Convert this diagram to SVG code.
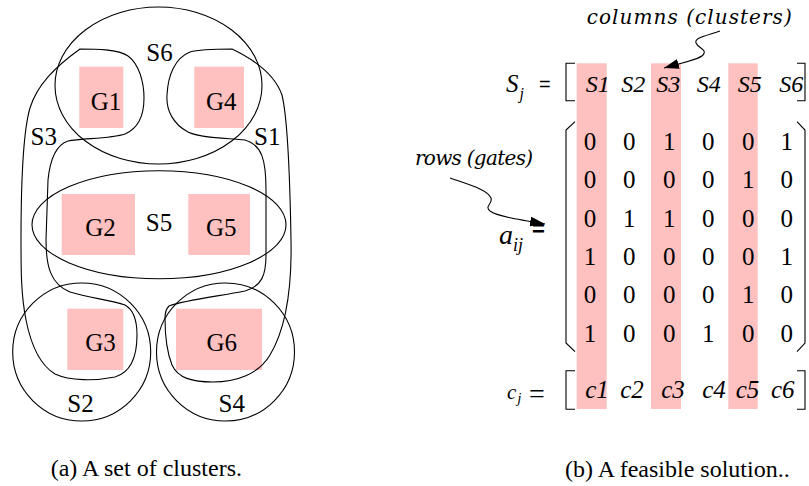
<svg xmlns="http://www.w3.org/2000/svg" width="809" height="486" viewBox="0 0 809 486">
<style>
.ln{fill:none;stroke:#000;stroke-width:1.1}
.gate{fill:#ffc0c0}
.lbl{font-family:"Liberation Serif","Times New Roman",serif;font-size:25px;fill:#000;text-anchor:middle}
.cap{font-family:"Liberation Serif","Times New Roman",serif;font-size:24px;fill:#000}
.it{font-family:"Liberation Serif","Times New Roman",serif;font-style:italic;fill:#000}
.dg{font-family:"Liberation Serif","Times New Roman",serif;font-size:25px;fill:#000;text-anchor:middle}
.ann{font-family:"DejaVu Serif","Liberation Serif",serif;font-style:italic;font-size:20px;fill:#000}
</style>
<defs>
<marker id="ah" markerUnits="userSpaceOnUse" markerWidth="15" markerHeight="10" refX="15" refY="5" orient="auto">
<path d="M0,0 L15,5 L0,10 Z" fill="#000"/>
</marker>
</defs>
<rect width="809" height="486" fill="#fff"/>

<!-- gates -->
<g id="G1"><rect class="gate" x="79.3" y="66.7" width="44" height="61.3"/><text class="lbl" x="106" y="110">G1</text></g>
<g id="G4"><rect class="gate" x="194.3" y="66.7" width="49.7" height="61.3"/><text class="lbl" x="221.3" y="110">G4</text></g>
<g id="G2"><rect class="gate" x="61.7" y="194" width="73.3" height="61"/><text class="lbl" x="100.5" y="236">G2</text></g>
<g id="G5"><rect class="gate" x="188.3" y="194" width="61.7" height="61"/><text class="lbl" x="221.3" y="236">G5</text></g>
<g id="G3"><rect class="gate" x="67.3" y="308.7" width="56" height="61.3"/><text class="lbl" x="100.5" y="351">G3</text></g>
<g id="G6"><rect class="gate" x="176" y="308.7" width="86" height="61.3"/><text class="lbl" x="221.7" y="351">G6</text></g>

<!-- clusters -->
<g id="S6"><ellipse class="ln" cx="158.5" cy="85.5" rx="103.5" ry="78.5"/><text class="lbl" x="159.5" y="61">S6</text></g>
<g id="S5"><ellipse class="ln" cx="159" cy="224.7" rx="127" ry="54"/><text class="lbl" x="159" y="230.7">S5</text></g>
<g id="S2"><circle class="ln" cx="81.7" cy="352" r="69"/><text class="lbl" x="80.5" y="411.7">S2</text></g>
<g id="S4"><circle class="ln" cx="225.5" cy="352" r="69"/><text class="lbl" x="231.7" y="411.7">S4</text></g>
<g id="S3">
<path class="ln" d="M80,49 C95,49 118,49 128,56 C139,64 144,82 144,98 C144,114 139,128 125,134 C110,139 82,138 68,141 C56,145 50,160 48,180 L46,240 C46,265 50,284 70,292 C90,298 110,300 125,305 C134,310 137,320 137,335 C137,355 132,372 115,377 C95,381 70,381 55,374 C40,365 31,345 26,320 C21,295 21,270 21,240 C21,200 22,135 30,108 C37,85 55,67 80,49 Z"/>
<text class="lbl" x="43.8" y="145">S3</text>
</g>
<g id="S1">
<path class="ln" d="M232,49 C255,60 275,75 282,95 C288,120 290,180 291,240 C292,290 285,330 270,355 C258,375 235,382 213,382 C192,382 178,378 172,365 C166,350 165,330 165,318 C165,312 167,308 169,306 C185,300 220,296 245,291 C262,286 266,275 266,255 L266,190 C266,160 262,145 245,140 C225,138 200,138 188,132 C173,124 166,110 167,95 C168,75 175,58 190,52 C200,49 215,49 232,49 Z"/>
<text class="lbl" x="267.3" y="145">S1</text>
</g>
<text class="cap" x="50.7" y="476">(a) A set of clusters.</text>

<!-- right panel: selected columns -->
<g id="selected-columns">
<rect class="gate" x="576.7" y="63.3" width="30" height="345.7"/>
<rect class="gate" x="651" y="63.3" width="30" height="345.7"/>
<rect class="gate" x="728.3" y="63.3" width="29.4" height="345.7"/>
</g>

<g id="Sj">
<text class="it" x="506" y="92" font-size="25">S<tspan font-size="16" dx="1" dy="7">j</tspan></text>
<text x="539" y="91" font-family="Liberation Sans, Arial, sans-serif" font-size="20">=</text>
<path class="ln" d="M575,63.3 H566 V100.7 H575 M797,63.3 H805 V100.7 H797"/>
<g class="it" font-size="24" text-anchor="middle">
<text x="597.8" y="91.7">S1</text><text x="633.3" y="91.7">S2</text><text x="668.3" y="91.7">S3</text>
<text x="708.8" y="91.7">S4</text><text x="749.7" y="91.7">S5</text><text x="791.3" y="91.7">S6</text>
</g>
</g>

<g id="aij">
<text class="it" x="499" y="244" font-size="28">a<tspan font-size="18" dy="7">ij</tspan></text>
<text x="532" y="236" font-family="Liberation Sans, Arial, sans-serif" font-size="22" font-weight="bold">=</text>
<path class="ln" d="M575,121.7 L566,130 V343 L575,351.7 M797,121.7 L805,130 V343 L797,351.7"/>
<g class="dg">
<text x="590" y="150">0</text><text x="629.3" y="150">0</text><text x="669.3" y="150">1</text><text x="708.3" y="150">0</text><text x="748.3" y="150">0</text><text x="786.7" y="150">1</text>
<text x="590" y="188.3">0</text><text x="629.3" y="188.3">0</text><text x="669.3" y="188.3">0</text><text x="708.3" y="188.3">0</text><text x="748.3" y="188.3">1</text><text x="786.7" y="188.3">0</text>
<text x="590" y="226.7">0</text><text x="629.3" y="226.7">1</text><text x="669.3" y="226.7">1</text><text x="708.3" y="226.7">0</text><text x="748.3" y="226.7">0</text><text x="786.7" y="226.7">0</text>
<text x="590" y="265">1</text><text x="629.3" y="265">0</text><text x="669.3" y="265">0</text><text x="708.3" y="265">0</text><text x="748.3" y="265">0</text><text x="786.7" y="265">1</text>
<text x="590" y="303.4">0</text><text x="629.3" y="303.4">0</text><text x="669.3" y="303.4">0</text><text x="708.3" y="303.4">0</text><text x="748.3" y="303.4">1</text><text x="786.7" y="303.4">0</text>
<text x="590" y="341.7">1</text><text x="629.3" y="341.7">0</text><text x="669.3" y="341.7">0</text><text x="708.3" y="341.7">1</text><text x="748.3" y="341.7">0</text><text x="786.7" y="341.7">0</text>
</g>
</g>

<g id="cj">
<text class="it" x="507" y="399" font-size="21">c<tspan font-size="15" dx="1" dy="4">j</tspan></text>
<text x="529" y="403" font-family="Liberation Serif, serif" font-size="28">=</text>
<path class="ln" d="M575,370.7 H566 V409.3 H575 M797,370.7 H805 V409.3 H797"/>
<g class="it" font-size="25" text-anchor="middle">
<text x="597" y="398.3">c1</text><text x="632" y="398.3">c2</text><text x="673" y="398.3">c3</text>
<text x="714" y="398.3">c4</text><text x="747.5" y="398.3">c5</text><text x="782.7" y="398.3">c6</text>
</g>
</g>

<g id="annotations">
<text class="ann" x="586.7" y="24" textLength="205" lengthAdjust="spacing">columns (clusters)</text>
<text class="ann" x="415" y="165" textLength="118" lengthAdjust="spacing">rows (gates)</text>
</g>

<g id="connectors">
<path class="ln" marker-end="url(#ah)" d="M720,31 C705,36 694,38 696,43 C698,48 708,50 703,55 C698,60 685,62 664,68"/>
<path class="ln" marker-end="url(#ah)" d="M450,178 C470,185 488,190 491,198 C493,204 484,206 490,211 C497,216 515,219 545,224"/>
</g>

<text class="cap" x="565" y="477">(b) A feasible solution..</text>
</svg>
